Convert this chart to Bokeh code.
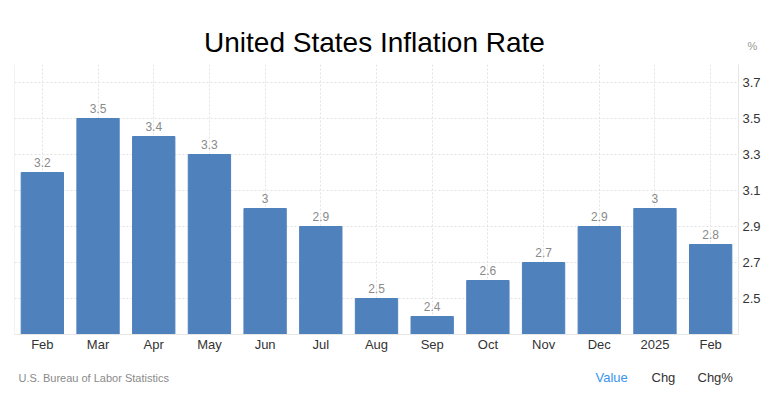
from bokeh.plotting import figure
from bokeh.models import (Range1d, FixedTicker, LinearAxis, Label, ColumnDataSource,
                          LabelSet, Span)
from bokeh.layouts import column, row
from bokeh.core.properties import value
from bokeh.embed import file_html
from bokeh.resources import INLINE

months = ["Feb", "Mar", "Apr", "May", "Jun", "Jul", "Aug", "Sep", "Oct", "Nov", "Dec", "2025", "Feb"]
values = [3.2, 3.5, 3.4, 3.3, 3.0, 2.9, 2.5, 2.4, 2.6, 2.7, 2.9, 3.0, 2.8]
value_text = ["3.2", "3.5", "3.4", "3.3", "3", "2.9", "2.5", "2.4", "2.6", "2.7", "2.9", "3", "2.8"]
y_ticks = [2.5, 2.7, 2.9, 3.1, 3.3, 3.5, 3.7]

FONT = "Liberation Sans"
W = 768
HEAD_H, FOOT_H = 64, 43
xs = list(range(len(months)))
src = ColumnDataSource(dict(x=xs, top=values, label=value_text))


def blank(h):
    f = figure(width=W, height=h, output_backend="svg", toolbar_location=None,
               x_range=Range1d(0, W), y_range=Range1d(0, h),
               x_axis_location=None, y_axis_location=None,
               min_border=0, min_border_left=0, min_border_right=0,
               min_border_top=0, min_border_bottom=0)
    f.grid.visible = False
    f.outline_line_color = None
    f.background_fill_color = "white"
    f.border_fill_color = "white"
    return f


# header with title and unit
head = blank(HEAD_H)
head.add_layout(Label(x=374, y=HEAD_H - 42, text="United States Inflation Rate",
                      text_align="center", text_baseline="middle", text_font=FONT,
                      text_font_size="28px", text_color="#000000"))
head.add_layout(Label(x=752, y=HEAD_H - 45, text="%", text_align="center",
                      text_baseline="middle", text_font=FONT, text_font_size="11px",
                      text_color="#999999"))

# main chart
p = figure(width=W, height=292, output_backend="svg", toolbar_location=None,
           x_range=Range1d(-0.5, len(months) - 0.5), y_range=Range1d(2.3, 3.8),
           y_axis_location=None,
           min_border_left=14, min_border_top=0, min_border_bottom=22, min_border_right=30)
p.frame_width = 724
p.frame_height = 270
p.outline_line_color = None
p.background_fill_color = "white"
p.border_fill_color = "white"

p.vbar(x="x", top="top", bottom=2.3, width=0.76, source=src,
       fill_color="#4f81bd", line_color="#4f81bd")

labels = LabelSet(x="x", y="top", text="label", source=src, text_align="center",
                  text_baseline="bottom", y_offset=6, text_font=value(FONT),
                  text_font_size="12px", text_color="#8a8a8a")
p.add_layout(labels)

p.xaxis.ticker = FixedTicker(ticks=xs)
p.xaxis.major_label_overrides = {i: m for i, m in enumerate(months)}
p.xaxis.major_label_text_font = FONT
p.xaxis.major_label_text_font_size = "13px"
p.xaxis.major_label_text_color = "#333333"
p.xaxis.major_tick_line_color = None
p.xaxis.minor_tick_line_color = None
p.xaxis.major_tick_out = 0
p.xaxis.minor_tick_out = 0
p.xaxis.axis_line_color = "#e6e6e6"
p.xaxis.major_label_standoff = 2

yax = LinearAxis(ticker=FixedTicker(ticks=y_ticks))
yax.major_label_text_font = FONT
yax.major_label_text_font_size = "13px"
yax.major_label_text_color = "#333333"
yax.major_tick_line_color = None
yax.minor_tick_line_color = None
yax.major_tick_out = 0
yax.minor_tick_out = 0
yax.axis_line_color = "#e6e6e6"
yax.major_label_standoff = 4
p.add_layout(yax, "right")

p.ygrid.ticker = FixedTicker(ticks=y_ticks + [3.8])
p.ygrid.grid_line_color = "#e2e2e2"
p.ygrid.grid_line_dash = "2 2"
p.xgrid.ticker = FixedTicker(ticks=xs)
p.xgrid.grid_line_color = "#e2e2e2"
p.xgrid.grid_line_dash = "2 2"
p.add_layout(Span(location=-0.5, dimension="height", line_color="#e6e6e6", line_width=1))

# footer
foot = blank(FOOT_H)
foot.add_layout(Label(x=18, y=FOOT_H - 21, text="U.S. Bureau of Labor Statistics",
                      text_align="left", text_baseline="middle", text_font=FONT,
                      text_font_size="11px", text_color="#8a8a8a"))
for t, xx, c in [("Value", 595, "#3a94ee"), ("Chg", 651, "#333333"), ("Chg%", 697, "#333333")]:
    foot.add_layout(Label(x=xx, y=FOOT_H - 21, text=t, text_align="left",
                          text_baseline="middle", text_font=FONT,
                          text_font_size="13px", text_color=c))

layout = column(row(head), row(p), row(foot), spacing=0)
open("out.html", "w").write(file_html(layout, INLINE))
